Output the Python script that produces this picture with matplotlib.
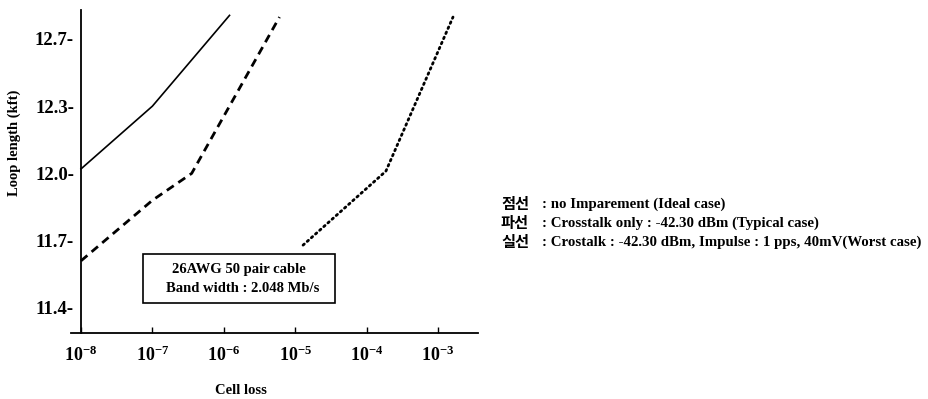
import numpy as np
import matplotlib
matplotlib.use("Agg")
import matplotlib.pyplot as plt
from matplotlib.patches import Rectangle

plt.rcParams['font.family'] = ['Liberation Serif', 'DejaVu Sans']
plt.rcParams['mathtext.fontset'] = 'custom'
plt.rcParams['mathtext.rm'] = 'Liberation Serif:bold'
plt.rcParams['mathtext.default'] = 'rm'

# Daten (log10 der Zellverlustrate, Schleifenlänge in kft)
solid_x = [-8, -7, -5.92]
solid_y = [12.02, 12.30, 12.84]
dashed_x = [-8, -7, -6.45, -5.22]
dashed_y = [11.61, 11.88, 12.00, 12.83]
dotted_x = [-4.89, -3.73, -2.79]
dotted_y = [11.68, 12.01, 12.83]

x_exponents = [-8, -7, -6, -5, -4, -3]
y_ticks = [11.4, 11.7, 12.0, 12.3, 12.7]

legend_keys = ['점선', '파선', '실선']
legend_desc = [': no Imparement (Ideal case)',
               ': Crosstalk only : -42.30 dBm (Typical case)',
               ': Crostalk : -42.30 dBm, Impulse : 1 pps, 40mV(Worst case)']
box_lines = ['26AWG 50 pair cable', 'Band width : 2.048 Mb/s']

# y-Achse: Teilstriche gleichmäßig verteilt, stückweise linear
yv = [11.1] + y_ticks + [13.1]
yp = list(range(-1, len(y_ticks) + 1))
fwd = lambda v: np.interp(v, yv, yp)
inv = lambda p: np.interp(p, yp, yv)

W, H = 929, 399
fig = plt.figure(figsize=(W / 100, H / 100), dpi=100)
ax = fig.add_axes([71 / W, 1 - 333 / H, (478 - 71) / W, (333 - 10) / H])
ax.set_xscale('log')
ax.set_yscale('function', functions=(fwd, inv))

ax.plot(10.0 ** np.array(solid_x), solid_y, color='black', lw=1.2, ls='-')
ax.plot(10.0 ** np.array(dashed_x), dashed_y, color='black', lw=2.0, ls=(0, (3, 2)))
ax.plot(10.0 ** np.array(dotted_x), dotted_y, color='black', lw=2.0, ls=(0, (0.6, 1.4)),
        dash_capstyle='round')

ax.set_xlim(10 ** -8.14, 10 ** -2.44)
ax.set_ylim(11.288, 12.872)

ax.spines['top'].set_visible(False)
ax.spines['right'].set_visible(False)
ax.spines['left'].set_position(('data', 1e-8))
ax.spines['left'].set_linewidth(1.3)
ax.spines['bottom'].set_linewidth(1.3)

ax.set_xticks([10.0 ** e for e in x_exponents])
ax.set_xticklabels([f'$10^{{{e}}}$' for e in x_exponents], fontsize=13)
ax.xaxis.set_minor_locator(matplotlib.ticker.NullLocator())
ax.tick_params(axis='x', direction='in', length=4, width=1, pad=9)

ax.set_yticks(y_ticks)
ax.set_yticklabels([f'{v:.1f}-' for v in y_ticks], fontsize=13.5, fontweight='bold')
ax.yaxis.set_minor_locator(matplotlib.ticker.NullLocator())
ax.tick_params(axis='y', length=0, pad=5)

fig.text(241 / W, 1 - 391 / H, 'Cell loss', fontsize=10.5, fontweight='bold',
         ha='center', va='center')
fig.text(14 / W, 1 - 143 / H, 'Loop length (kft)', fontsize=10.5, fontweight='bold',
         rotation=90, ha='center', va='center')

# Kasten mit Kabelangaben
fig.patches.append(Rectangle((143 / W, 1 - 303 / H), (335 - 143) / W, (303 - 254) / H,
                             transform=fig.transFigure, fill=False, lw=1.2,
                             edgecolor='black'))
fig.text(239 / W, 1 - 269 / H, box_lines[0], fontsize=10.5, fontweight='bold',
         ha='center', va='center')
fig.text(243 / W, 1 - 288 / H, box_lines[1], fontsize=10.5, fontweight='bold',
         ha='center', va='center')

# Legende rechts
for i, (k, d) in enumerate(zip(legend_keys, legend_desc)):
    y = 1 - (204 + i * 19) / H
    fig.text(501 / W, y, k, fontsize=11, fontweight='bold',
             family=['Noto Sans CJK KR', 'DejaVu Sans'], ha='left', va='center')
    fig.text(542 / W, y, d, fontsize=10.7, fontweight='bold', ha='left', va='center')

fig.savefig('out.png', dpi=100)
